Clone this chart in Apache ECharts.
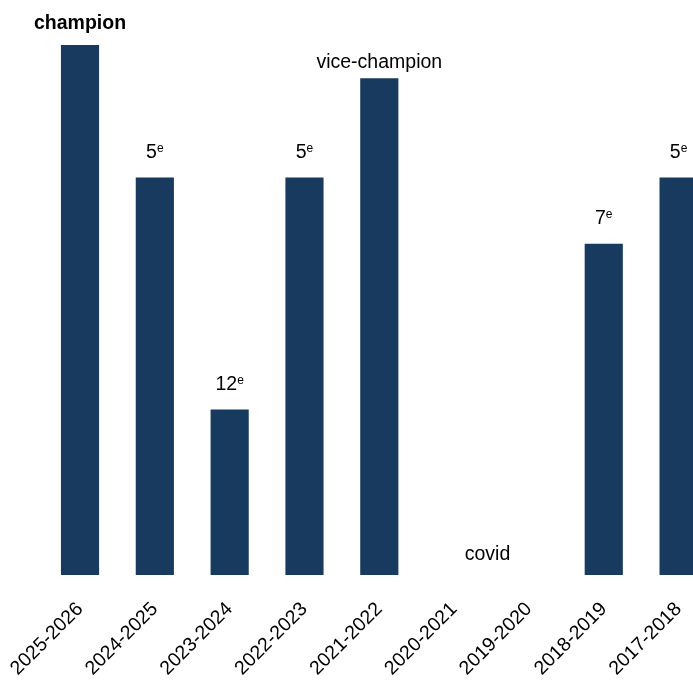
<!DOCTYPE html>
<html>
<head>
<meta charset="utf-8">
<script src="https://cdn.jsdelivr.net/npm/echarts@6/dist/echarts.min.js"></script>
<style>
  html, body { margin: 0; padding: 0; background: #ffffff; }
  #chart { width: 693px; height: 686px; }
</style>
</head>
<body>
<div id="chart"></div>
<script>
// seasons, newest first
var seasons = ['2025-2026', '2024-2025', '2023-2024', '2022-2023', '2021-2022',
               '2020-2021', '2019-2020', '2018-2019', '2017-2018'];
// bar height (higher = better finish), 0 = no season
var barValues = [16, 12, 5, 12, 15, 0, 0, 10, 12];
// finish text above each bar
var finishNum = ['champion', '5', '12', '5', 'vice-champion', '', '', '7', '5'];
var finishSup = ['', 'e', 'e', 'e', '', '', '', 'e', 'e'];
var noteText = 'covid';
var noteSeasons = ['2020-2021', '2019-2020'];

var FONT = '"Liberation Sans", Arial, sans-serif';
var FS = 19.5;
var BAR = '#173a5e';

var chart = echarts.init(document.getElementById('chart'));

var data = barValues.map(function (v, i) {
  var txt, dist = 15;
  if (i === 0) { txt = '{b|' + finishNum[i] + '}'; dist = 11; }
  else if (finishSup[i]) txt = '{n|' + finishNum[i] + '}{s|' + finishSup[i] + '}';
  else { txt = finishNum[i] ? '{n|' + finishNum[i] + '}' : ''; dist = 6; }
  return {
    value: v,
    label: { formatter: txt, distance: dist }
  };
});

chart.setOption({
  backgroundColor: '#ffffff',
  animation: false,
  grid: { left: 42.6, right: -23, top: 45, bottom: 111, outerBoundsMode: 'none', containLabel: false },
  xAxis: {
    type: 'category',
    data: seasons,
    axisLine: { show: false },
    axisTick: { show: false },
    splitLine: { show: false },
    axisLabel: {
      rotate: 45,
      interval: 0,
      margin: 31,
      color: '#000000',
      fontFamily: FONT,
      fontSize: FS
    }
  },
  yAxis: {
    type: 'value',
    min: 0,
    max: 16,
    show: false,
    splitLine: { show: false }
  },
  series: [{
    type: 'bar',
    data: data,
    barWidth: '51%',
    itemStyle: { color: BAR },
    label: {
      show: true,
      position: 'top',
      fontFamily: FONT,
      color: '#000000',
      rich: {
        b: { fontFamily: FONT, fontSize: FS, fontWeight: 'bold', color: '#000000' },
        n: { fontFamily: FONT, fontSize: FS, color: '#000000', lineHeight: 20 },
        s: { fontFamily: FONT, fontSize: 12, color: '#000000', verticalAlign: 'top', lineHeight: 20, padding: [0, 0, 6, 0] }
      }
    }
  }]
});

var xa = chart.convertToPixel({ xAxisIndex: 0 }, noteSeasons[0]);
var xb = chart.convertToPixel({ xAxisIndex: 0 }, noteSeasons[1]);
var y0 = chart.convertToPixel({ yAxisIndex: 0 }, 0);
chart.setOption({
  graphic: [{
    type: 'text',
    x: (xa + xb) / 2 - 4,
    y: y0 - 10,
    style: {
      text: noteText,
      fontFamily: FONT,
      fontSize: FS,
      fill: '#000000',
      align: 'center',
      verticalAlign: 'bottom'
    }
  }]
});
</script>
</body>
</html>
